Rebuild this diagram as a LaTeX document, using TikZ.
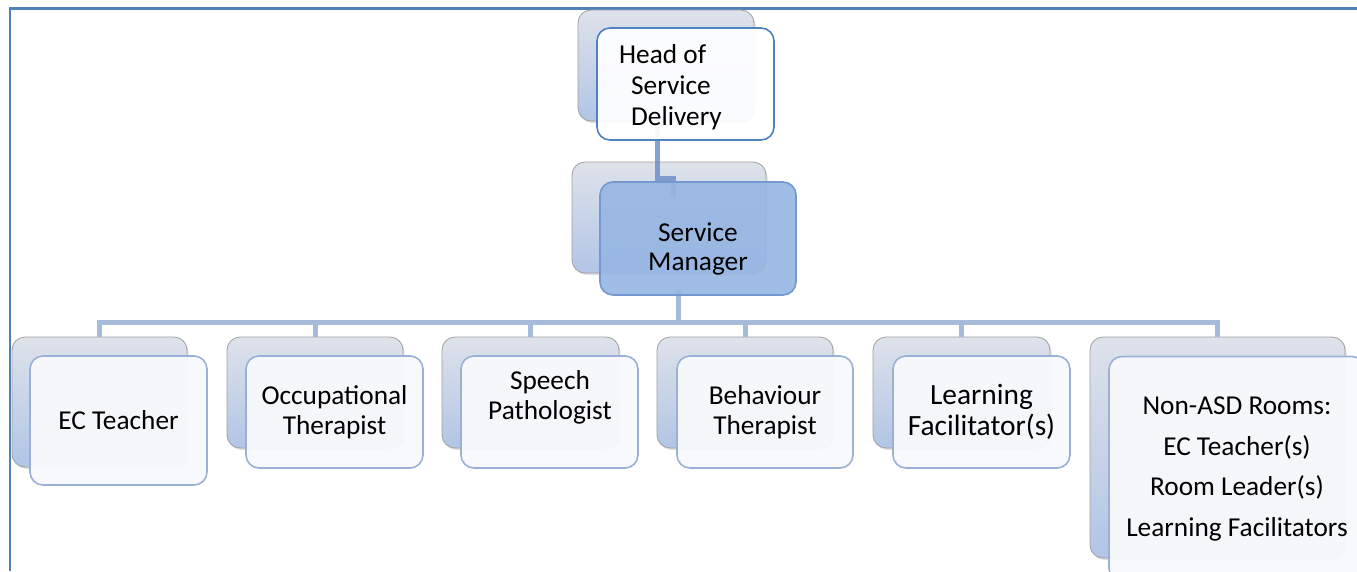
\documentclass[tikz,border=0pt]{standalone}
\usepackage{fontspec}
\setmainfont{Carlito}
\usetikzlibrary{shadows}
\definecolor{frameblue}{RGB}{79,129,189}
\definecolor{backtop}{RGB}{222,226,234}
\definecolor{backbot}{RGB}{178,197,230}
\definecolor{frontedge}{RGB}{155,176,214}
\definecolor{frontfill}{RGB}{248,249,252}
\definecolor{mgfill}{RGB}{150,182,226}
\definecolor{mgedge}{RGB}{118,152,208}
\definecolor{connA}{RGB}{112,144,200}
\definecolor{connB}{RGB}{166,186,218}
\tikzset{
  backbox/.style={rounded corners=13pt, draw=gray!75, line width=0.8pt,
    top color=backtop, bottom color=backbot,
    drop shadow={shadow xshift=1.5pt, shadow yshift=-2pt, opacity=0.25}},
  frontbox/.style={rounded corners=13pt, draw=frontedge, line width=1.6pt,
    fill=frontfill, fill opacity=0.95, text opacity=1, align=center,
    font=\fontsize{27.3}{29.5}\selectfont, inner sep=0pt},
  headfront/.style={frontbox, draw=frameblue, fill=white, fill opacity=0.93},
  mgfront/.style={frontbox, draw=mgedge, fill=mgfill, fill opacity=0.9},
  plaintext/.style={align=center, inner sep=0pt, font=\fontsize{27.3}{29.5}\selectfont},
  connup/.style={draw=connA, line width=5pt, opacity=0.85},
  conndown/.style={draw=connB, line width=5pt},
  framel/.style={draw=frameblue, line width=2.5pt}
}
\begin{document}
\begin{tikzpicture}[x=1pt,y=-1pt]
\useasboundingbox (0,0) rectangle (1357,571);
\clip (0,0) rectangle (1357,571);
% frame
\coordinate (fa) at (10,571);
\coordinate (fb) at (10,8.5);
\coordinate (fc) at (1360,8.5);
\draw[framel] (fa) -- (fb) -- (fc);
% back boxes
\node[backbox, minimum width=176, minimum height=111] (hb) at (666,65.5) {};
\node[backbox, minimum width=194, minimum height=111] (mb) at (669,217.5) {};
\node[backbox, minimum width=175, minimum height=130] (b1) at (99.5,402) {};
\node[backbox, minimum width=176, minimum height=111] (b2) at (315,392.5) {};
\node[backbox, minimum width=177, minimum height=111] (b3) at (530.5,392.5) {};
\node[backbox, minimum width=176, minimum height=111] (b4) at (745,392.5) {};
\node[backbox, minimum width=177, minimum height=111] (b5) at (961.5,392.5) {};
\node[backbox, minimum width=255, minimum height=221] (b6) at (1217.5,447.5) {};
% connectors
\coordinate (j1) at (657,178);
\coordinate (j2) at (673,197);
\draw[connup] (hb.south -| j1) -- (j1) -| (j2);
\coordinate (m1) at (678,322);
\coordinate (m0) at (678,290);
\draw[conndown] (m0) -- (m1);
\draw[conndown] (b1.north) |- (b6.north |- m1) -- (b6.north);
\foreach \b in {b2,b3,b4,b5}{
  \draw[conndown] (\b.north) -- (\b.north |- m1);
}
% front boxes
\node[headfront, minimum width=177, minimum height=112] (hf) at (685.5,84) {};
\node[plaintext, align=left, anchor=west, font=\fontsize{27.3}{31}\selectfont] (ht) at (619,87) {Head of\\\hspace*{12pt}Service\\\hspace*{12pt}Delivery};
\node[mgfront, minimum width=196, minimum height=113] (mf) at (698,238.5) {};
\node[plaintext] (mt) at (698,249) {Service\\Manager};
\node[frontbox, minimum width=177, minimum height=129] (f1) at (118.5,420.5) {EC Teacher};
\node[frontbox, minimum width=177, minimum height=112] (f2) at (334.5,412) {Occupational\\Therapist};
\node[frontbox, minimum width=177, minimum height=112] (f3) at (549.5,412) {};
\node[plaintext] (f3t) at (550,397.5) {Speech\\Pathologist};
\node[frontbox, minimum width=176, minimum height=112] (f4) at (765,412) {Behaviour\\Therapist};
\node[frontbox, minimum width=177, minimum height=112, font=\fontsize{29.4}{31}\selectfont] (f5) at (981.5,412) {Learning\\Facilitator(s)};
\node[frontbox, minimum width=256, minimum height=225, font=\fontsize{27.3}{40.5}\selectfont] (f6) at (1237,469) {Non-ASD Rooms:\\EC Teacher(s)\\Room Leader(s)\\Learning Facilitators};
\end{tikzpicture}
\end{document}
